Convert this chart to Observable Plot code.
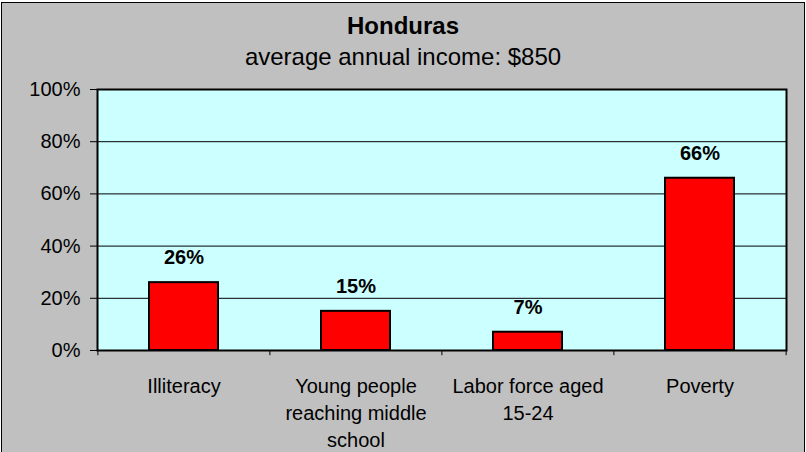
<!DOCTYPE html>
<html>
<head>
<meta charset="utf-8">
<script src="https://cdn.jsdelivr.net/npm/d3@7"></script>
<script src="https://cdn.jsdelivr.net/npm/@observablehq/plot@0.6"></script>
<style>
  html, body { margin: 0; padding: 0; background: #ffffff; overflow: hidden; }
  #chart {
    position: absolute; left: 1px; top: 2px; width: 804px; height: 452px;
    box-sizing: border-box; border: 1px solid #000; border-bottom: none;
    background: #C0C0C0; font-family: "Liberation Sans", Arial, sans-serif; color: #000;
  }
  #header { position: relative; height: 69px; }
  #title { position: absolute; left: 0; right: 0; top: 10.7px; text-align: center;
    font-size: 24px; line-height: 24px; font-weight: bold; }
  #subtitle { position: absolute; left: 0; right: 0; top: 41.7px; text-align: center;
    font-size: 24px; line-height: 24px; }
  #plot svg { display: block; overflow: visible; }
</style>
</head>
<body>
<div id="chart">
  <div id="header">
    <div id="title">Honduras</div>
    <div id="subtitle">average annual income: $850</div>
  </div>
  <div id="plot"></div>
</div>
<script>
const categories = ["Illiteracy", "Young people reaching middle school", "Labor force aged 15-24", "Poverty"];
const tickLabels = ["Illiteracy", "Young people\nreaching middle\nschool", "Labor force aged\n15-24", "Poverty"];
const values = [26, 15, 7, 66];
const yTicks = [0, 20, 40, 60, 80, 100];
const gridTicks = [20, 40, 60, 80];

const data = categories.map((c, i) => ({category: c, value: values[i], label: tickLabels[i]}));

const W = 802, H = 380;
const mL = 95, mR = 18, mT = 17, mB = 102;
const step = (W - mL - mR) / categories.length;

const chart = Plot.plot({
  width: W,
  height: H,
  marginLeft: mL,
  marginRight: mR,
  marginTop: mT,
  marginBottom: mB,
  style: {background: "transparent", fontFamily: "'Liberation Sans', Arial, sans-serif", fontSize: "20px", color: "#000", overflow: "visible"},
  x: {domain: categories, paddingInner: 0.6, paddingOuter: 0.3, axis: null},
  y: {domain: [0, 100], axis: null},
  marks: [
    Plot.frame({fill: "#CCFFFF"}),
    Plot.ruleY(gridTicks, {stroke: "#000", strokeWidth: 1}),
    Plot.barY(data, {x: "category", y: "value", fill: "#FF0000", stroke: "#000", strokeWidth: 2}),
    Plot.text(data, {x: "category", y: "value", text: d => d.value + "%", dy: -25, fontWeight: "bold", fontSize: 20, fill: "#000"}),
    Plot.frame({stroke: "#000", strokeWidth: 2}),
    Plot.axisY({ticks: yTicks, tickFormat: d => d + "%", tickSize: 7, tickPadding: 10, fontSize: 20, label: null, stroke: "#000"}),
    Plot.ruleX(categories, {x: d => d, dx: -step / 2, y1: 0, y2: -2, stroke: "#000", strokeWidth: 1}),
    Plot.ruleX(categories.slice(-1), {x: d => d, dx: step / 2, y1: 0, y2: -2, stroke: "#000", strokeWidth: 1}),
    Plot.text(data, {x: "category", frameAnchor: "bottom", text: "label", lineAnchor: "top", dy: 23, lineHeight: 1.365, fontSize: 20, fill: "#000"})
  ]
});
document.getElementById("plot").appendChild(chart);
</script>
</body>
</html>
